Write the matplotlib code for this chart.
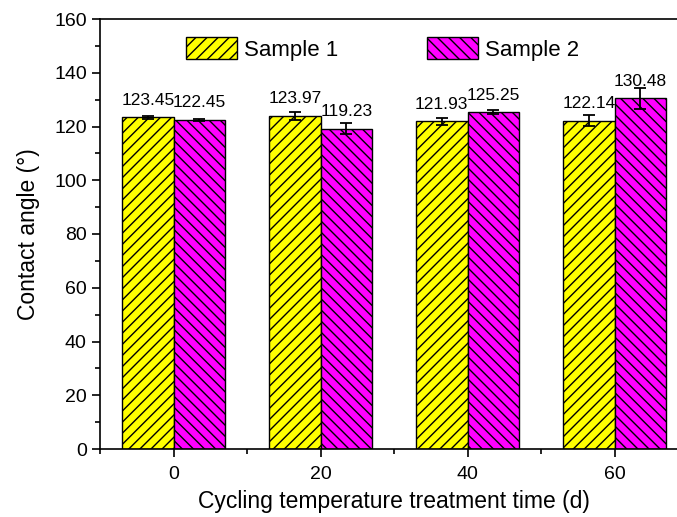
import numpy as np
import matplotlib.pyplot as plt
from matplotlib.ticker import MultipleLocator

plt.rcParams["font.family"] = ["Liberation Sans", "DejaVu Sans"]
plt.rcParams["hatch.linewidth"] = 1.0

# 数据
times = [0, 20, 40, 60]
sample1 = [123.45, 123.97, 121.93, 122.14]
sample1_err = [0.6, 1.6, 1.4, 2.1]
sample2 = [122.45, 119.23, 125.25, 130.48]
sample2_err = [0.3, 2.2, 0.75, 3.8]

fig = plt.figure(figsize=(6.77, 5.17), dpi=100)
ax = fig.add_axes([100 / 677, 68 / 517, 588 / 677, 430 / 517])

w = 7
x = np.array(times)
ax.bar(x - w / 2, sample1, w, color="#FFFF00", edgecolor="black", linewidth=1.0,
       hatch="///", label="Sample 1", zorder=2)
ax.bar(x + w / 2, sample2, w, color="#FF00FF", edgecolor="black", linewidth=1.0,
       hatch="\\\\\\", label="Sample 2", zorder=2)
ax.errorbar(x - w / 2, sample1, yerr=sample1_err, fmt="none", ecolor="black",
            elinewidth=1.3, capsize=4.5, capthick=1.3, zorder=3)
ax.errorbar(x + w / 2, sample2, yerr=sample2_err, fmt="none", ecolor="black",
            elinewidth=1.3, capsize=4.5, capthick=1.3, zorder=3)

# 数值标签
for xs, vals in ((x - w / 2, sample1), (x + w / 2, sample2)):
    for xi, v in zip(xs, vals):
        ax.annotate(f"{v:.2f}", (xi, v), xytext=(0, 9), textcoords="offset points",
                    ha="center", va="baseline", fontsize=12.5)

ax.set_xlim(-10, 70)
ax.set_ylim(0, 160)
ax.set_xticks(times)
ax.xaxis.set_minor_locator(MultipleLocator(10))
ax.yaxis.set_major_locator(MultipleLocator(20))
ax.yaxis.set_minor_locator(MultipleLocator(10))
ax.tick_params(which="both", direction="out", width=1.2, labelsize=14)
ax.tick_params(which="major", length=6)
ax.tick_params(which="minor", length=3.5)
ax.tick_params(axis="x", pad=6)
for s in ax.spines.values():
    s.set_linewidth(1.2)

ax.set_xlabel("Cycling temperature treatment time (d)", fontsize=16.5, labelpad=5)
ax.set_ylabel("Contact angle (°)", fontsize=16.5, labelpad=10)

ax.legend(loc="center", bbox_to_anchor=(0.48, 0.93), ncol=2, frameon=False,
          fontsize=16, handlelength=2.3, handleheight=1.15, handletextpad=0.3,
          columnspacing=4.0, borderpad=0)

fig.savefig("out.png", dpi=100)
